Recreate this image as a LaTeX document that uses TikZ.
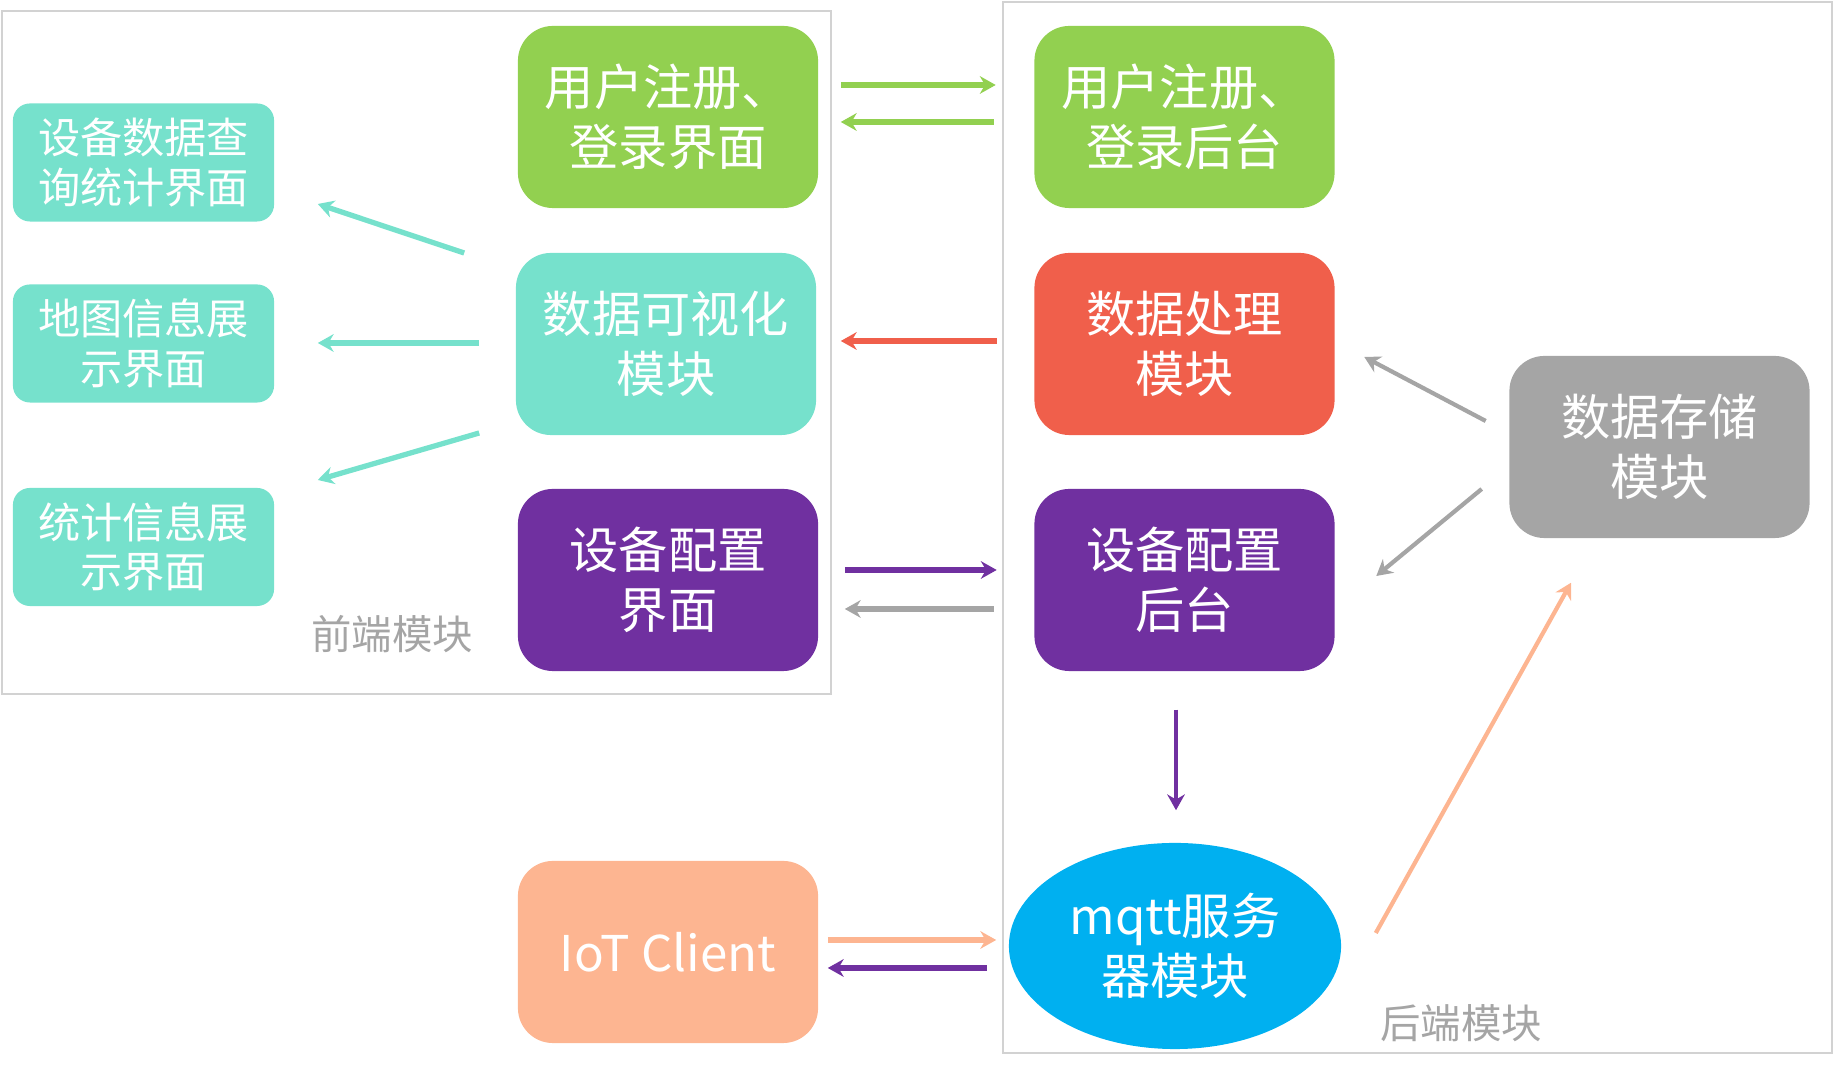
\documentclass[tikz,border=0pt]{standalone}
\usepackage{fontspec}
\newfontfamily\cjk{Noto Sans CJK SC}
\usetikzlibrary{shapes.geometric,arrows.meta,calc}
\definecolor{cgreen}{HTML}{92D050}
\definecolor{cteal}{HTML}{76E1CC}
\definecolor{cred}{HTML}{F05F4B}
\definecolor{cpurple}{HTML}{7030A0}
\definecolor{cgray}{HTML}{A5A5A5}
\definecolor{cpeach}{HTML}{FDB591}
\definecolor{cblue}{HTML}{00B0F0}
\begin{document}
\begin{tikzpicture}[x=0.01cm,y=-0.01cm,
    box/.style={rounded corners=0.35cm,minimum width=3cm,minimum height=1.82cm,align=center,text=white,font=\cjk\fontsize{14}{17}\selectfont},
    sbox/.style={rounded corners=0.17cm,minimum width=2.61cm,minimum height=1.18cm,fill=cteal,align=center,text=white,font=\cjk\fontsize{12}{14}\selectfont},
    frame/.style={draw=gray!35,line width=0.7pt},
    lbl/.style={text=cgray,font=\cjk\fontsize{11.5}{13}\selectfont},
    link/.style={-{Stealth[length=4.5pt,width=5pt]},line width=1.5pt}]
      \useasboundingbox (0,0) rectangle (1835,1068);
      % frames
      \draw [frame] (2,11) rectangle (831,694);
      \draw [frame] (1003,2) rectangle (1832,1053);
      \node [lbl] (front) at (392,634) {前端模块};
      \node [lbl] (back) at (1461,1023) {后端模块};
      % front end
      \node [box,fill=cgreen] (reg) at (668,117) {用户注册、\\登录界面};
      \node [box,fill=cteal] (vis) at (666,344) {数据可视化\\模块};
      \node [box,fill=cpurple] (cfg) at (668,580) {设备配置\\界面};
      \node [box,fill=cpeach] (iot) at (668,952) {IoT Client};
      \node [sbox] (query) at (143.5,162.5) {设备数据查\\询统计界面};
      \node [sbox] (map) at (143.5,343.5) {地图信息展\\示界面};
      \node [sbox] (stat) at (143.5,547) {统计信息展\\示界面};
      % back end
      \node [box,fill=cgreen] (regb) at (1184.5,117) {用户注册、\\登录后台};
      \node [box,fill=cred] (proc) at (1184.5,344) {数据处理\\模块};
      \node [box,fill=cpurple] (cfgb) at (1184.5,580) {设备配置\\后台};
      \node [box,fill=cgray] (store) at (1659.5,447) {数据存储\\模块};
      \node [ellipse,fill=cblue,minimum width=3.32cm,minimum height=2.06cm,inner sep=0pt,align=center,text=white,font=\cjk\fontsize{14}{17}\selectfont] (mqtt) at (1175,946) {mqtt服务\\器模块};
      % connectors
      \draw [link,cgreen] ($(reg.east)+(22,-32)$) -- ($(regb.west)+(-38,-32)$);
      \draw [link,cgreen] ($(regb.west)+(-40,5)$) -- ($(reg.east)+(22,5)$);
      \draw [link,cred] ($(proc.west)+(-37,-3)$) -- ($(vis.east)+(24,-3)$);
      \draw [link,cpurple] ($(cfg.east)+(26,-10)$) -- ($(cfgb.west)+(-37,-10)$);
      \draw [link,cgray] ($(cfgb.west)+(-40,29)$) -- ($(cfg.east)+(26,29)$);
      \draw [link,cpeach] ($(iot.east)+(9,-12)$) -- ($(mqtt.west)+(-12,-6)$);
      \draw [link,cpurple] ($(mqtt.west)+(-21,22)$) -- ($(iot.east)+(9,16)$);
      \draw [link,cpurple,line width=1.2pt] ($(cfgb.south)+(-8.5,38)$) -- ($(mqtt.north)+(1,-32)$);
      \draw [link,cgray,line width=1.2pt] ($(store.west)+(-23,-26)$) -- ($(proc.east)+(29,13)$);
      \draw [link,cgray,line width=1.2pt] ($(store.west)+(-27,42)$) -- ($(cfgb.east)+(41,-4)$);
      \draw [link,cpeach,line width=1.2pt] ($(mqtt.east)+(34,-13)$) -- ($(store.south)+(-88.5,44)$);
      \draw [link,cteal] ($(vis.west)+(-51,-91)$) -- ($(query.east)+(43,41.5)$);
      \draw [link,cteal] ($(vis.west)+(-36,-1)$) -- ($(map.east)+(43,-0.5)$);
      \draw [link,cteal] ($(vis.west)+(-36,89)$) -- ($(stat.east)+(43,-67)$);
    \end{tikzpicture}
\end{document}
